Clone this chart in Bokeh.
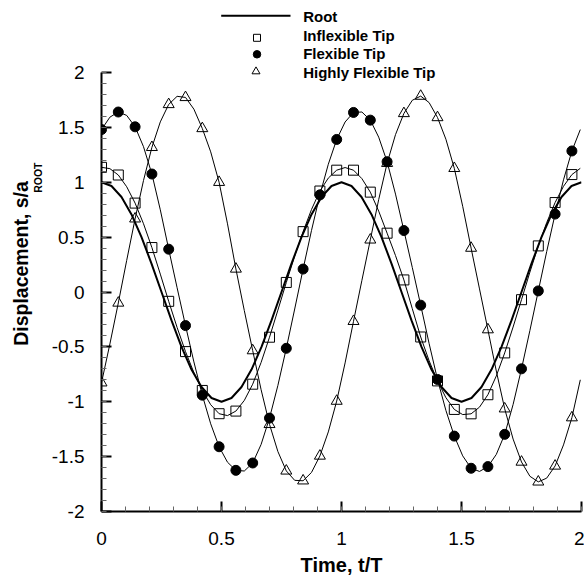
import math
from bokeh.plotting import figure
from bokeh.layouts import row
from bokeh.models import Range1d, SingleIntervalTicker, Label, NumeralTickFormatter
from bokeh.embed import file_html
from bokeh.resources import INLINE

# ---------------- data ----------------
# marker samples, every 0.07 t/T
t_marker = [round(0.07 * k, 2) for k in range(29)]

inflexible = [1.136, 1.066, 0.81, 0.405, -0.085, -0.543, -0.897, -1.109, -1.085, -0.84,
              -0.412, 0.087, 0.55, 0.92, 1.11, 1.11, 0.91, 0.536, 0.11, -0.41,
              -0.81, -1.07, -1.11, -0.936, -0.555, -0.07, 0.42, 0.815, 1.07]
flexible = [1.48, 1.64, 1.505, 1.075, 0.39, -0.306, -0.94, -1.41, -1.625, -1.558,
            -1.149, -0.513, 0.209, 0.885, 1.39, 1.636, 1.566, 1.187, 0.56, -0.12,
            -0.797, -1.313, -1.606, -1.591, -1.297, -0.70, 0.01, 0.71, 1.285]
highly = [-0.827, -0.10, 0.667, 1.318, 1.709, 1.773, 1.49, 1.0, 0.21, -0.534,
          -1.206, -1.63, -1.72, -1.494, -0.994, -0.267, 0.475, 1.173, 1.627, 1.785,
          1.59, 1.127, 0.40, -0.343, -1.064, -1.549, -1.73, -1.585, -1.145]

# curve values read half-way between markers, and at the right end t/T = 2
inflexible_mid = [1.124, 0.959, 0.622, 0.163, -0.323, -0.735, -1.027, -1.126, -0.988, -0.642,
                  -0.165, 0.327, 0.752, 1.038, 1.134, 1.033, 0.737, 0.332, -0.152, -0.626,
                  -0.963, -1.117, -1.049, -0.765, -0.319, 0.181, 0.632, 0.963]
flexible_mid = [1.593, 1.609, 1.324, 0.749, 0.039, -0.637, -1.201, -1.551, -1.631, -1.389,
                -0.851, -0.155, 0.561, 1.164, 1.549, 1.640, 1.411, 0.892, 0.223, -0.469,
                -1.079, -1.493, -1.635, -1.480, -1.025, -0.351, 0.368, 1.022]
highly_mid = [-0.473, 0.288, 1.016, 1.550, 1.783, 1.666, 1.277, 0.621, -0.169, -0.89,
              -1.454, -1.716, -1.644, -1.275, -0.646, 0.106, 0.842, 1.434, 1.747, 1.726,
              1.392, 0.781, 0.028, -0.720, -1.340, -1.679, -1.696, -1.393]
inflexible_end = 1.127
flexible_end = 1.48
highly_end = -0.80

# root curve, every 1/24 t/T
t_root = [k / 24 for k in range(49)]
root = [1.0, 0.966, 0.866, 0.707, 0.5, 0.259, 0.0, -0.259, -0.5, -0.707, -0.866, -0.966,
        -1.0, -0.966, -0.866, -0.707, -0.5, -0.259, 0.0, 0.259, 0.5, 0.707, 0.866, 0.966,
        1.0, 0.966, 0.866, 0.707, 0.5, 0.259, 0.0, -0.259, -0.5, -0.707, -0.866, -0.966,
        -1.0, -0.966, -0.866, -0.707, -0.5, -0.259, 0.0, 0.259, 0.5, 0.707, 0.866, 0.966, 1.0]

tick_interval = 0.5
legend_labels = ["Root", "Inflexible Tip", "Flexible Tip", "Highly Flexible Tip"]
x_label = "Time, t/T"
y_label_main = "Displacement, s/a"
y_label_sub = "ROOT"


def build_line(marks, mids, end):
    vals = []
    for i, m in enumerate(marks):
        vals.append(m)
        if i < len(mids):
            vals.append(mids[i])
    vals.append(end)
    return vals


t_line = [round(0.035 * j, 3) for j in range(58)] + [2.0]

FONT = "Liberation Sans"

# layout geometry (pixels)
W_LEFT = 48            # strip holding the y title
W_MAIN = 584 - W_LEFT
H = 576

# ---------------- main figure ----------------
Y_TOP = -2 + 511 / 109.75
p = figure(frame_width=480, frame_height=511,
           x_range=Range1d(0, 2), y_range=Range1d(-2, Y_TOP),
           min_border_left=101 - W_LEFT, min_border_right=W_MAIN - (101 - W_LEFT) - 480,
           min_border_top=0, min_border_bottom=H - 511,
           output_backend="svg", toolbar_location=None, tools="")
p.outline_line_color = None
p.xgrid.visible = False
p.ygrid.visible = False
p.background_fill_color = "white"
p.border_fill_color = "white"

for ax in (p.xaxis[0], p.yaxis[0]):
    ax.ticker = SingleIntervalTicker(interval=tick_interval, num_minor_ticks=5)
    ax.formatter = NumeralTickFormatter(format="0.[0]")
    ax.axis_line_width = 2
    ax.axis_line_color = "black"
    ax.major_tick_in = 10
    ax.major_tick_out = 0
    ax.minor_tick_in = 5
    ax.minor_tick_out = 0
    ax.major_tick_line_width = 2
    ax.major_tick_line_color = "black"
    ax.minor_tick_line_width = 1
    ax.minor_tick_line_color = "#666666"
    ax.major_label_text_font = FONT
    ax.major_label_text_font_size = "19px"
    ax.major_label_text_color = "black"
p.xaxis.bounds = (0, 2)
p.yaxis.bounds = (-2, 2)
p.xaxis.major_label_standoff = 20
p.yaxis.major_label_standoff = 17
p.xaxis.axis_label = x_label
p.xaxis.axis_label_text_font = FONT
p.xaxis.axis_label_text_font_size = "20px"
p.xaxis.axis_label_text_font_style = "bold"
p.xaxis.axis_label_text_color = "black"
p.xaxis.axis_label_standoff = 6


def ref(rx, ry):
    """reference-image pixel -> data coordinates of the main figure (layout helper)"""
    return (rx - 101) / 240, -2 + (511 - ry) / 109.75


# curves
p.line(t_root, root, line_color="black", line_width=2)
p.line(t_line, build_line(inflexible, inflexible_mid, inflexible_end), line_color="black", line_width=1)
p.line(t_line, build_line(flexible, flexible_mid, flexible_end), line_color="black", line_width=1)
p.line(t_line, build_line(highly, highly_mid, highly_end), line_color="black", line_width=1)

# markers
p.scatter(t_marker, inflexible, marker="square", size=10, fill_color=None,
          line_color="black", line_width=1)
p.scatter(t_marker, flexible, marker="circle", size=10, fill_color="black",
          line_color="black", line_width=1)
p.scatter(t_marker, highly, marker="triangle", size=11, fill_color=None,
          line_color="black", line_width=1)

# legend (drawn above the axes, inside the frame area)
x0, y0 = ref(220.7, 15.3)
x1, _ = ref(290, 15.3)
p.line([x0, x1], [y0, y0], line_color="black", line_width=2)
mx, my = ref(256.5, 37.3)
p.scatter([mx], [my], marker="square", size=7, fill_color=None, line_color="black")
mx, my = ref(256.5, 53.8)
p.scatter([mx], [my], marker="circle", size=7.5, fill_color="black", line_color="black")
mx, my = ref(255.5, 71)
p.scatter([mx], [my], marker="triangle", size=8, fill_color=None, line_color="black")
for lab, centre in zip(legend_labels, [16.3, 34.5, 52.8, 71.5]):
    lx, ly = ref(302.7, centre)
    p.add_layout(Label(x=lx, y=ly, text=lab, text_font=FONT, text_font_size="15px",
                       text_font_style="bold", text_color="black",
                       text_align="left", text_baseline="middle"))


# ---------------- y title strip (centre anchored, reference pixel coords) ----------------
ly_fig = figure(width=W_LEFT, height=H, x_range=Range1d(0, W_LEFT), y_range=Range1d(0, H),
                min_border=0, x_axis_location=None, y_axis_location=None,
                output_backend="svg", toolbar_location=None, tools="")
ly_fig.outline_line_color = None
ly_fig.grid.visible = False
ly_fig.background_fill_color = "white"
ly_fig.border_fill_color = "white"
ly_fig.add_layout(Label(x=20.5, y=H - 297.6, text=y_label_main, text_font=FONT,
                        text_font_size="19.5px", text_font_style="bold", text_color="black",
                        angle=math.pi / 2, text_align="center", text_baseline="middle"))
ly_fig.add_layout(Label(x=37.5, y=H - 200.5, text=y_label_sub, text_font=FONT,
                        text_font_size="10.5px", text_font_style="bold", text_color="black",
                        angle=math.pi / 2, text_align="center", text_baseline="middle"))

layout = row(ly_fig, p, spacing=0)
open("out.html", "w").write(file_html(layout, INLINE))
